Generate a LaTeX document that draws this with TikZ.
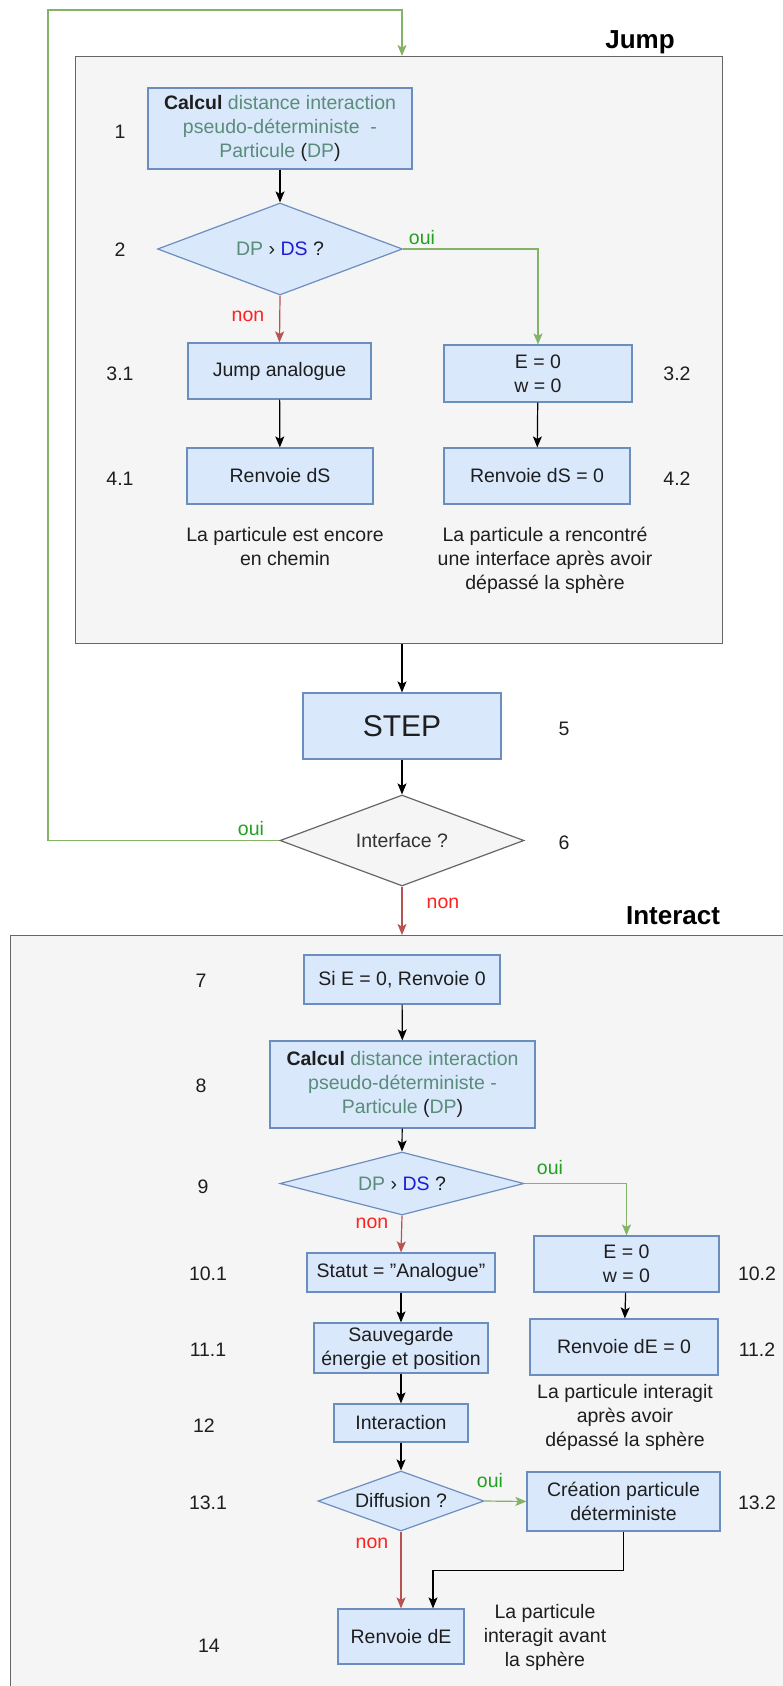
\documentclass[tikz,border=0pt]{standalone}
\usepackage{fontspec}
\setmainfont{Liberation Sans}
\usetikzlibrary{shapes.geometric,arrows.meta}
\definecolor{boxfill}{HTML}{DAE8FC}
\definecolor{boxdraw}{HTML}{6C8EBF}
\definecolor{grpfill}{HTML}{F5F5F5}
\definecolor{grpdraw}{HTML}{666666}
\definecolor{lgreen}{HTML}{82B366}
\definecolor{lred}{HTML}{B85450}
\definecolor{tgreen}{HTML}{22A022}
\definecolor{tred}{HTML}{FF2020}
\definecolor{tteal}{HTML}{5A8C7A}
\definecolor{tblue}{HTML}{1C1CD8}
\definecolor{txt}{HTML}{1E1E1E}
\definecolor{txtgray}{HTML}{333333}
\tikzset{
 base/.style={font=\fontsize{19.5}{24}\selectfont, text=txt},
 procbox/.style={base, rectangle, draw=boxdraw, fill=boxfill, line width=1.2pt, inner sep=0pt, align=center},
 decision/.style={diamond, draw=boxdraw, fill=boxfill, line width=1.2pt, inner sep=0pt},
 grpbox/.style={rectangle, draw=grpdraw, fill=grpfill, line width=1.3pt, inner sep=0pt, anchor=north west},
 numlbl/.style={base},
 note/.style={base, align=center},
 grptitle/.style={font=\fontsize{26}{30}\selectfont\bfseries, text=black},
 flow/.style={draw=black, line width=1.2pt, -{Stealth[length=11pt,width=9pt,inset=2.5pt]}},
 yes/.style={flow, draw=lgreen},
 no/.style={flow, draw=lred},
 yeslbl/.style={base, text=tgreen},
 nolbl/.style={base, text=tred},
}
\begin{document}
\begin{tikzpicture}[x=1pt,y=-1pt]
\useasboundingbox (0,0) rectangle (783,1686);
\begin{scope}
\clip (0,0) rectangle (783,1686);
% group boxes
\node[grpbox, minimum width=647pt, minimum height=587pt] (jump) at (75,56) {};
\node[grptitle] (jumpt) at (640,42) {Jump};
\node[grpbox, minimum width=800pt, minimum height=800pt] (interact) at (10,935) {};
\node[grptitle] (interactt) at (673,916) {Interact};

% Jump part
\node[procbox, minimum width=264pt, minimum height=81pt] (b1) at (280,128.5)
 {{\bfseries Calcul} \textcolor{tteal}{distance interaction}\\ \textcolor{tteal}{pseudo-déterministe\ \ -}\\ \textcolor{tteal}{Particule} (\textcolor{tteal}{DP})};
\node[decision, minimum width=245pt, minimum height=92pt,
 label={[base]center:{\textcolor{tteal}{DP} › \textcolor{tblue}{DS} ?}}] (d2) at (280,249) {};
\node[procbox, minimum width=183pt, minimum height=56pt] (b31) at (279.5,371) {Jump analogue};
\node[procbox, minimum width=188pt, minimum height=57pt] (b32) at (538,373.5) {E = 0\\w = 0};
\node[procbox, minimum width=186pt, minimum height=56pt] (b41) at (280,476) {Renvoie dS};
\node[procbox, minimum width=186pt, minimum height=56pt] (b42) at (537,476) {Renvoie dS = 0};
\node[note] (n41) at (285,547) {La particule est encore\\en chemin};
\node[note] (n42) at (545,560) {La particule a rencontré\\une interface après avoir\\dépassé la sphère};

\node[numlbl] (l1) at (120,132) {1};
\node[numlbl] (l2) at (120,250) {2};
\node[numlbl] (l31) at (120,374) {3.1};
\node[numlbl] (l32) at (677,374) {3.2};
\node[numlbl] (l41) at (120,479) {4.1};
\node[numlbl] (l42) at (677,479) {4.2};

% middle
\node[procbox, minimum width=198pt, minimum height=66pt, font=\fontsize{30}{36}\selectfont] (step) at (402,726) {STEP};
\node[decision, draw=grpdraw, fill=grpfill, minimum width=244pt, minimum height=91pt,
 label={[base, text=txtgray]center:Interface ?}] (d6) at (402,840.5) {};
\node[numlbl] (l5) at (564,729) {5};
\node[numlbl] (l6) at (564,843) {6};

% Interact part
\node[procbox, minimum width=196pt, minimum height=49pt] (b7) at (402,979.5) {Si E = 0, Renvoie 0};
\node[procbox, minimum width=265pt, minimum height=87pt] (b8) at (402.5,1084.5)
 {{\bfseries Calcul} \textcolor{tteal}{distance interaction}\\ \textcolor{tteal}{pseudo-déterministe -}\\ \textcolor{tteal}{Particule} (\textcolor{tteal}{DP})};
\node[decision, minimum width=244pt, minimum height=63pt,
 label={[base]center:{\textcolor{tteal}{DP} › \textcolor{tblue}{DS} ?}}] (d9) at (402,1183.5) {};
\node[procbox, minimum width=188pt, minimum height=39pt] (b101) at (401,1272.5) {Statut = "Analogue"};
\node[procbox, minimum width=185pt, minimum height=56pt] (b102) at (626.5,1264) {E = 0\\w = 0};
\node[procbox, minimum width=174pt, minimum height=50pt] (b111) at (401,1348) {Sauvegarde\\énergie et position};
\node[procbox, minimum width=188pt, minimum height=56pt] (b112) at (624,1347) {Renvoie dE = 0};
\node[note] (n112) at (625,1417) {La particule interagit\\après avoir\\dépassé la sphère};
\node[procbox, minimum width=134pt, minimum height=38pt] (b12) at (401,1423) {Interaction};
\node[decision, minimum width=166pt, minimum height=60pt,
 label={[base]center:Diffusion ?}] (d131) at (401,1501) {};
\node[procbox, minimum width=193pt, minimum height=59pt] (b132) at (623.5,1501.5) {Création particule\\déterministe};
\node[procbox, minimum width=126pt, minimum height=55pt] (b14) at (401,1636.5) {Renvoie dE};
\node[note] (n14) at (545,1637) {La particule\\interagit avant\\la sphère};

\node[numlbl] (l7) at (201,981) {7};
\node[numlbl] (l8) at (201,1086) {8};
\node[numlbl] (l9) at (203,1187) {9};
\node[numlbl] (l101) at (208,1274) {10.1};
\node[numlbl] (l102) at (757,1274) {10.2};
\node[numlbl] (l111) at (208,1350) {11.1};
\node[numlbl] (l112) at (757,1350) {11.2};
\node[numlbl] (l12) at (204,1426) {12};
\node[numlbl] (l131) at (208,1503) {13.1};
\node[numlbl] (l132) at (757,1503) {13.2};
\node[numlbl] (l14) at (209,1646) {14};

% connectors - Jump
\draw[flow] (b1) -- (d2);
\draw[yes] (d2.east) -| (b32.north);
\node[yeslbl] (o2) at (422,238) {oui};
\draw[no] (d2.south) -- (b31.north);
\node[nolbl] (x2) at (248,316) {non};
\draw[flow] (b31) -- (b41);
\draw[flow] (b32) -- (b42);

% middle connectors
\draw[flow] (step.north |- jump.south) -- (step.north);
\draw[flow] (step) -- (d6);
\coordinate (loop) at (48,10);
\draw[yes] (d6.west) -| (loop) -| (step.north |- jump.north);
\node[yeslbl] (o6) at (251,829) {oui};
\draw[no] (d6.south) -- (d6.south |- interact.north);
\node[nolbl] (x6) at (443,903) {non};

% Interact connectors
\draw[flow] (b7) -- (b8);
\draw[flow] (b8) -- (d9.north);
\draw[yes] (d9.east) -| (b102.north);
\node[yeslbl] (o9) at (550,1168) {oui};
\draw[no] (d9.south) -- (b101.north);
\node[nolbl] (x9) at (372,1223) {non};
\draw[flow] (b101) -- (b111);
\draw[flow] (b102) -- (b112);
\draw[flow] (b111) -- (b12);
\draw[flow] (b12) -- (d131.north);
\draw[yes] (d131.east) -- (b132.west);
\node[yeslbl] (o13) at (490,1481) {oui};
\draw[no] (d131.south) -- (b14.north);
\node[nolbl] (x13) at (372,1543) {non};
\draw[flow] (b132.south) -- ++(0,39) -| ([xshift=32pt]b14.north);
\end{scope}
\end{tikzpicture}
\end{document}
